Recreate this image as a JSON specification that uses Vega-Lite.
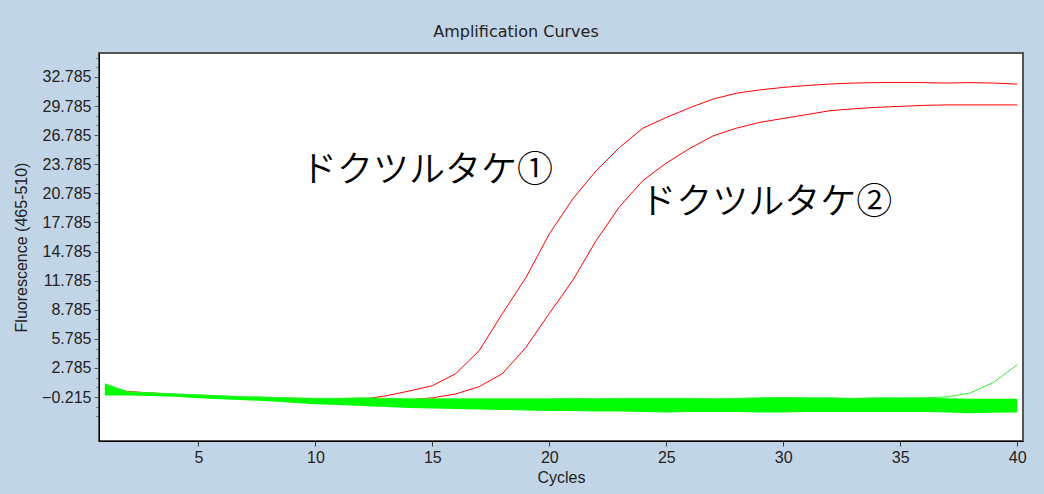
{
  "$schema": "https://vega.github.io/schema/vega-lite/v6.json",
  "width": 924,
  "height": 388,
  "autosize": "none",
  "padding": {"left": 99, "top": 53, "right": 21, "bottom": 53},
  "background": "#c2d5e6",
  "config": {
    "view": {"fill": "white", "stroke": "#555555", "strokeWidth": 2},
    "font": "Liberation Sans"
  },
  "title": {
    "text": "Amplification Curves",
    "font": "DejaVu Sans",
    "fontSize": 16,
    "fontWeight": "normal",
    "color": "#222222",
    "anchor": "middle",
    "dx": -45,
    "offset": 10
  },
  "datasets": {
    "red": [
      {"cycle": 1, "value": 0.7, "sample": "A"}, {"cycle": 2, "value": 0.35, "sample": "A"}, {"cycle": 3, "value": 0.2, "sample": "A"}, {"cycle": 4, "value": 0.05, "sample": "A"}, {"cycle": 5, "value": -0.1, "sample": "A"},
      {"cycle": 6, "value": -0.2, "sample": "A"}, {"cycle": 7, "value": -0.35, "sample": "A"}, {"cycle": 8, "value": -0.5, "sample": "A"}, {"cycle": 9, "value": -0.6, "sample": "A"}, {"cycle": 10, "value": -0.65, "sample": "A"},
      {"cycle": 11, "value": -0.6, "sample": "A"}, {"cycle": 12, "value": -0.45, "sample": "A"}, {"cycle": 13, "value": -0.1, "sample": "A"}, {"cycle": 14, "value": 0.4, "sample": "A"}, {"cycle": 15, "value": 0.95, "sample": "A"},
      {"cycle": 16, "value": 2.2, "sample": "A"}, {"cycle": 17, "value": 4.55, "sample": "A"}, {"cycle": 18, "value": 8.4, "sample": "A"}, {"cycle": 19, "value": 12.1, "sample": "A"}, {"cycle": 20, "value": 16.6, "sample": "A"},
      {"cycle": 21, "value": 20.2, "sample": "A"}, {"cycle": 22, "value": 23.1, "sample": "A"}, {"cycle": 23, "value": 25.5, "sample": "A"}, {"cycle": 24, "value": 27.5, "sample": "A"}, {"cycle": 25, "value": 28.6, "sample": "A"},
      {"cycle": 26, "value": 29.6, "sample": "A"}, {"cycle": 27, "value": 30.5, "sample": "A"}, {"cycle": 28, "value": 31.1, "sample": "A"}, {"cycle": 29, "value": 31.45, "sample": "A"}, {"cycle": 30, "value": 31.7, "sample": "A"},
      {"cycle": 31, "value": 31.9, "sample": "A"}, {"cycle": 32, "value": 32.05, "sample": "A"}, {"cycle": 33, "value": 32.15, "sample": "A"}, {"cycle": 34, "value": 32.2, "sample": "A"}, {"cycle": 35, "value": 32.2, "sample": "A"},
      {"cycle": 36, "value": 32.2, "sample": "A"}, {"cycle": 37, "value": 32.15, "sample": "A"}, {"cycle": 38, "value": 32.2, "sample": "A"}, {"cycle": 39, "value": 32.15, "sample": "A"}, {"cycle": 40, "value": 32.05, "sample": "A"},
      {"cycle": 1, "value": 0.65, "sample": "B"}, {"cycle": 2, "value": 0.3, "sample": "B"}, {"cycle": 3, "value": 0.15, "sample": "B"}, {"cycle": 4, "value": 0.0, "sample": "B"}, {"cycle": 5, "value": -0.15, "sample": "B"},
      {"cycle": 6, "value": -0.25, "sample": "B"}, {"cycle": 7, "value": -0.4, "sample": "B"}, {"cycle": 8, "value": -0.5, "sample": "B"}, {"cycle": 9, "value": -0.6, "sample": "B"}, {"cycle": 10, "value": -0.65, "sample": "B"},
      {"cycle": 11, "value": -0.7, "sample": "B"}, {"cycle": 12, "value": -0.65, "sample": "B"}, {"cycle": 13, "value": -0.6, "sample": "B"}, {"cycle": 14, "value": -0.5, "sample": "B"}, {"cycle": 15, "value": -0.3, "sample": "B"},
      {"cycle": 16, "value": 0.1, "sample": "B"}, {"cycle": 17, "value": 0.85, "sample": "B"}, {"cycle": 18, "value": 2.2, "sample": "B"}, {"cycle": 19, "value": 4.9, "sample": "B"}, {"cycle": 20, "value": 8.4, "sample": "B"},
      {"cycle": 21, "value": 11.8, "sample": "B"}, {"cycle": 22, "value": 15.9, "sample": "B"}, {"cycle": 23, "value": 19.4, "sample": "B"}, {"cycle": 24, "value": 22.1, "sample": "B"}, {"cycle": 25, "value": 23.9, "sample": "B"},
      {"cycle": 26, "value": 25.4, "sample": "B"}, {"cycle": 27, "value": 26.7, "sample": "B"}, {"cycle": 28, "value": 27.5, "sample": "B"}, {"cycle": 29, "value": 28.1, "sample": "B"}, {"cycle": 30, "value": 28.5, "sample": "B"},
      {"cycle": 31, "value": 28.9, "sample": "B"}, {"cycle": 32, "value": 29.3, "sample": "B"}, {"cycle": 33, "value": 29.5, "sample": "B"}, {"cycle": 34, "value": 29.65, "sample": "B"}, {"cycle": 35, "value": 29.75, "sample": "B"},
      {"cycle": 36, "value": 29.85, "sample": "B"}, {"cycle": 37, "value": 29.9, "sample": "B"}, {"cycle": 38, "value": 29.9, "sample": "B"}, {"cycle": 39, "value": 29.9, "sample": "B"}, {"cycle": 40, "value": 29.9, "sample": "B"}
    ],
    "band": [
      {"cycle": 1, "hi": 1.2, "lo": -0.05}, {"cycle": 2, "hi": 0.35, "lo": -0.05}, {"cycle": 3, "hi": 0.25, "lo": -0.1}, {"cycle": 4, "hi": 0.15, "lo": -0.2}, {"cycle": 5, "hi": 0.05, "lo": -0.35},
      {"cycle": 6, "hi": -0.05, "lo": -0.45}, {"cycle": 7, "hi": -0.15, "lo": -0.55}, {"cycle": 8, "hi": -0.2, "lo": -0.65}, {"cycle": 9, "hi": -0.3, "lo": -0.8}, {"cycle": 10, "hi": -0.35, "lo": -0.95},
      {"cycle": 11, "hi": -0.35, "lo": -1.05}, {"cycle": 12, "hi": -0.3, "lo": -1.15}, {"cycle": 13, "hi": -0.35, "lo": -1.25}, {"cycle": 14, "hi": -0.4, "lo": -1.35}, {"cycle": 15, "hi": -0.4, "lo": -1.4},
      {"cycle": 16, "hi": -0.4, "lo": -1.45}, {"cycle": 17, "hi": -0.4, "lo": -1.5}, {"cycle": 18, "hi": -0.4, "lo": -1.55}, {"cycle": 19, "hi": -0.4, "lo": -1.6}, {"cycle": 20, "hi": -0.4, "lo": -1.65},
      {"cycle": 21, "hi": -0.35, "lo": -1.65}, {"cycle": 22, "hi": -0.4, "lo": -1.7}, {"cycle": 23, "hi": -0.35, "lo": -1.7}, {"cycle": 24, "hi": -0.35, "lo": -1.75}, {"cycle": 25, "hi": -0.35, "lo": -1.8},
      {"cycle": 26, "hi": -0.35, "lo": -1.75}, {"cycle": 27, "hi": -0.4, "lo": -1.75}, {"cycle": 28, "hi": -0.35, "lo": -1.75}, {"cycle": 29, "hi": -0.3, "lo": -1.8}, {"cycle": 30, "hi": -0.25, "lo": -1.8},
      {"cycle": 31, "hi": -0.3, "lo": -1.75}, {"cycle": 32, "hi": -0.3, "lo": -1.75}, {"cycle": 33, "hi": -0.35, "lo": -1.75}, {"cycle": 34, "hi": -0.3, "lo": -1.75}, {"cycle": 35, "hi": -0.3, "lo": -1.75},
      {"cycle": 36, "hi": -0.3, "lo": -1.75}, {"cycle": 37, "hi": -0.35, "lo": -1.8}, {"cycle": 38, "hi": -0.4, "lo": -1.9}, {"cycle": 39, "hi": -0.4, "lo": -1.85}, {"cycle": 40, "hi": -0.4, "lo": -1.8}
    ],
    "green": [
      {"cycle": 1, "value": 1.0}, {"cycle": 2, "value": 0.3}, {"cycle": 3, "value": 0.2}, {"cycle": 4, "value": 0.1}, {"cycle": 5, "value": 0.0},
      {"cycle": 6, "value": -0.1}, {"cycle": 7, "value": -0.2}, {"cycle": 8, "value": -0.25}, {"cycle": 9, "value": -0.3}, {"cycle": 10, "value": -0.35},
      {"cycle": 11, "value": -0.35}, {"cycle": 12, "value": -0.3}, {"cycle": 13, "value": -0.35}, {"cycle": 14, "value": -0.4}, {"cycle": 15, "value": -0.4},
      {"cycle": 16, "value": -0.4}, {"cycle": 17, "value": -0.4}, {"cycle": 18, "value": -0.4}, {"cycle": 19, "value": -0.4}, {"cycle": 20, "value": -0.4},
      {"cycle": 21, "value": -0.35}, {"cycle": 22, "value": -0.4}, {"cycle": 23, "value": -0.35}, {"cycle": 24, "value": -0.35}, {"cycle": 25, "value": -0.35},
      {"cycle": 26, "value": -0.35}, {"cycle": 27, "value": -0.4}, {"cycle": 28, "value": -0.35}, {"cycle": 29, "value": -0.3}, {"cycle": 30, "value": -0.25},
      {"cycle": 31, "value": -0.3}, {"cycle": 32, "value": -0.3}, {"cycle": 33, "value": -0.35}, {"cycle": 34, "value": -0.3}, {"cycle": 35, "value": -0.3},
      {"cycle": 36, "value": -0.3}, {"cycle": 37, "value": -0.2}, {"cycle": 38, "value": 0.2}, {"cycle": 39, "value": 1.3}, {"cycle": 40, "value": 3.1}
    ],
    "labels": [
      {"cycle": 14.77, "value": 23.1, "label": "ドクツルタケ①"},
      {"cycle": 29.27, "value": 19.8, "label": "ドクツルタケ②"}
    ]
  },
  "encoding": {
    "x": {
      "field": "cycle", "type": "quantitative",
      "scale": {"domain": [0.75, 40.25], "nice": false, "zero": false},
      "axis": {
        "title": "Cycles", "values": [5, 10, 15, 20, 25, 30, 35, 40],
        "grid": false, "domainColor": "#000000", "tickColor": "#333333", "tickSize": 5,
        "labelFont": "Liberation Sans", "labelFontSize": 16, "labelColor": "#222222", "labelPadding": 3,
        "titleFont": "Liberation Sans", "titleFontSize": 16, "titleFontWeight": "normal", "titleColor": "#222222", "titlePadding": 4
      }
    },
    "y": {
      "type": "quantitative",
      "scale": {"domain": [-4.75, 35.25], "nice": false, "zero": false},
      "axis": {
        "title": "Fluorescence (465-510)",
        "values": [-2.215, -1.215, -0.215, 0.785, 1.785, 2.785, 3.785, 4.785, 5.785, 6.785, 7.785, 8.785, 9.785, 10.785, 11.785, 12.785, 13.785, 14.785, 15.785, 16.785, 17.785, 18.785, 19.785, 20.785, 21.785, 22.785, 23.785, 24.785, 25.785, 26.785, 27.785, 28.785, 29.785, 30.785, 31.785, 32.785, 33.785, 34.785],
        "labelExpr": "(abs((datum.value + 0.215) % 3) < 0.01 || abs((datum.value + 0.215) % 3 - 3) < 0.01) && datum.value > -1 ? format(datum.value, '.3f') : ''",
        "tickSize": {"condition": {"test": "(abs((datum.value + 0.215) % 3) < 0.01 || abs((datum.value + 0.215) % 3 - 3) < 0.01) && datum.value > -1", "value": 5}, "value": 3},
        "labelOverlap": false, "labelBound": false,
        "grid": false, "domainColor": "#000000", "tickColor": "#555555",
        "labelFont": "Liberation Sans", "labelFontSize": 16, "labelColor": "#222222", "labelPadding": 3,
        "titleFont": "Liberation Sans", "titleFontSize": 16, "titleFontWeight": "normal", "titleColor": "#222222", "titlePadding": 12
      }
    }
  },
  "layer": [
    {
      "data": {"name": "red"},
      "mark": {"type": "line", "color": "#ff0000", "strokeWidth": 1, "clip": true},
      "encoding": {"y": {"field": "value"}, "detail": {"field": "sample"}}
    },
    {
      "data": {"name": "band"},
      "mark": {"type": "area", "color": "#00ff00", "opacity": 1, "clip": true},
      "encoding": {"y": {"field": "hi"}, "y2": {"field": "lo"}}
    },
    {
      "data": {"name": "green"},
      "mark": {"type": "line", "color": "#33ee33", "strokeWidth": 1, "clip": true},
      "encoding": {"y": {"field": "value"}}
    },
    {
      "data": {"name": "labels"},
      "mark": {"type": "text", "font": "Noto Sans CJK JP", "fontSize": 36, "fontWeight": 350, "color": "#000000", "align": "center", "baseline": "middle"},
      "encoding": {"y": {"field": "value"}, "text": {"field": "label"}}
    }
  ]
}
